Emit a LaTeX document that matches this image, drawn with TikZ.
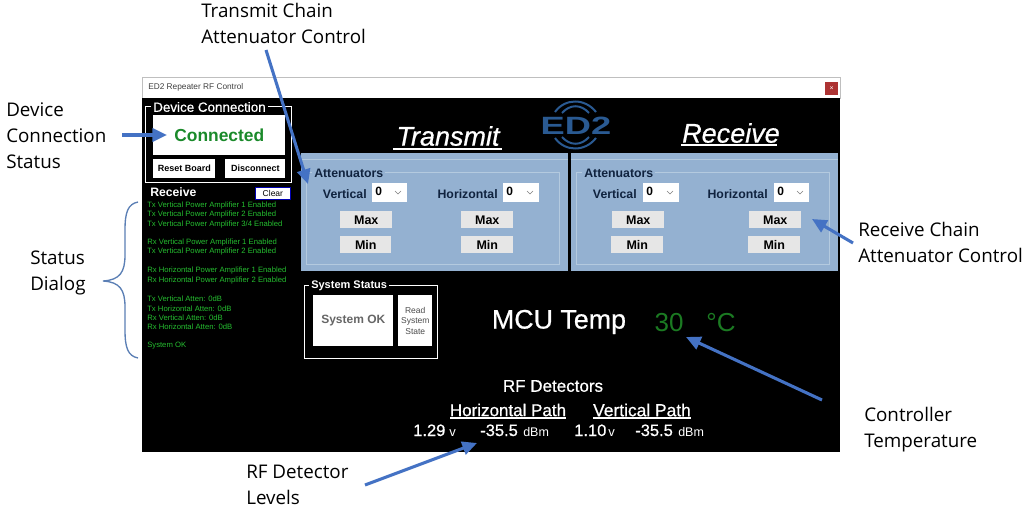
\documentclass[tikz,border=0pt]{standalone}
\usepackage{fontspec}
\setmainfont{Liberation Sans}
\newfontfamily\notef{Open Sans}
\newfontfamily\semif[FakeBold=0.6]{Liberation Sans}
\usetikzlibrary{arrows.meta}
\definecolor{arrowblue}{HTML}{4472C4}
\definecolor{bracecol}{HTML}{5B7FB5}
\definecolor{panelblue}{HTML}{94B1D1}
\definecolor{frameblue}{HTML}{B4CADF}
\definecolor{btngray}{HTML}{E6E6E6}
\definecolor{okgreen}{HTML}{1A8A2A}
\definecolor{dimgreen}{HTML}{1B7A22}
\definecolor{statgreen}{HTML}{25BE30}
\definecolor{navy}{HTML}{10233F}
\definecolor{logoblue}{HTML}{2A5A92}
\newcommand{\pxf}[1]{\fontsize{\dimexpr#1pt*3/4\relax}{\dimexpr#1pt*9/10\relax}\selectfont}
\tikzset{
  x=0.75pt,y=-0.75pt,
  note/.style={inner sep=0pt,align=left,anchor=west,text=black,font=\notef\fontsize{14.1pt}{19.5pt}\selectfont},
  callout/.style={draw=arrowblue,line width=2.3pt,-{Triangle[length=11pt,width=10pt]}},
  btn/.style={fill=btngray,draw=none,inner sep=0pt,text=black,font=\bfseries\pxf{12.5}},
  wbtn/.style={fill=white,draw=none,inner sep=0pt,text=black,font=\bfseries\pxf{9}},
  combo/.style={fill=white,draw=none,inner sep=0pt},
  gui/.style={inner sep=0pt,text=white},
  navytext/.style={inner sep=0pt,text=navy,font=\bfseries\pxf{12.3}},
  statline/.style={inner sep=0pt,anchor=west,text=statgreen,font=\pxf{7.7}},
  framebox/.style={draw=white,line width=0.8pt},
  pframe/.style={draw=frameblue,line width=0.8pt},
  logoarc/.style={draw=logoblue,line width=1.5pt},
}
\newcommand{\boxat}[6]{\node[#1,minimum width=#4*0.75pt-#2*0.75pt,minimum height=#5*0.75pt-#3*0.75pt,anchor=north west] (#6) at (#2,#3) {};}
\newcommand{\btnat}[7]{\node[#1,minimum width=#4*0.75pt-#2*0.75pt,minimum height=#5*0.75pt-#3*0.75pt,anchor=north west] (#6) at (#2,#3) {#7};}
\newcommand{\combobox}[3]{%
  \boxat{combo}{#1}{183}{#2}{202}{#3}
  \node[inner sep=0pt,anchor=west,text=black,font=\bfseries\pxf{12}] (#3v) at (#1+3,191) {0};
  \coordinate (#3a) at (#2-12,191); \coordinate (#3b) at (#2-9,194); \coordinate (#3c) at (#2-6,191);
  \draw[gray,line width=0.5pt] (#3a) -- (#3b) -- (#3c);
}
\begin{document}
\begin{tikzpicture}
\useasboundingbox (0,0) rectangle (1032,510);
\fill[white] (0,0) rectangle (1032,510);
% window
\boxat{fill=white,draw=black!25,line width=0.6pt}{142}{77}{840}{98}{titlebar}
\node[inner sep=0pt,anchor=west,text=black!75,font=\pxf{8.3}] (title) at (148,87) {ED2 Repeater RF Control};
\btnat{fill=red!60!black!80!white,inner sep=0pt,text=white,font=\pxf{7}}{825}{82}{838}{95}{closebtn}{×}
\boxat{fill=black}{142}{98}{840}{452}{client}
% device connection
\boxat{framebox}{145}{106}{291}{182}{devframe}
\node[gui,fill=black,font=\semif\pxf{13.4},inner xsep=1.5pt,anchor=west] (devlabel) at (151,107) {Device Connection};
\btnat{fill=white,inner sep=0pt,text=okgreen,font=\bfseries\pxf{17.4}}{153}{115}{285}{155}{connected}{Connected}
\btnat{wbtn}{153}{159}{215}{178}{reset}{Reset Board}
\btnat{wbtn}{225}{159}{285}{178}{disc}{Disconnect}
\node[gui,anchor=west,font=\bfseries\pxf{12.2}] (recv) at (150,192) {Receive};
\btnat{fill=white,draw=blue!70!black,line width=0.6pt,inner sep=0pt,text=black,font=\pxf{8.5}}{255}{187}{290}{199}{clear}{Clear}
% status lines
\node[statline] (s1) at (147,206) {Tx Vertical Power Amplifier 1 Enabled};
\node[statline] (s2) at (147,215) {Tx Vertical Power Amplifier 2 Enabled};
\node[statline] (s3) at (147,225) {Tx Vertical Power Amplifier 3/4 Enabled};
\node[statline] (s4) at (147,243) {Rx Vertical Power Amplifier 1 Enabled};
\node[statline] (s5) at (147,252) {Tx Vertical Power Amplifier 2 Enabled};
\node[statline] (s6) at (147,271) {Rx Horizontal Power Amplifier 1 Enabled};
\node[statline] (s7) at (147,281) {Rx Horizontal Power Amplifier 2 Enabled};
\node[statline] (s8) at (147,299) {Tx Vertical Atten: 0dB};
\node[statline] (s9) at (147,309) {Tx Horizontal Atten: 0dB};
\node[statline] (s10) at (147,318) {Rx Vertical Atten: 0dB};
\node[statline] (s11) at (147,327) {Rx Horizontal Atten: 0dB};
\node[statline] (s12) at (147,346) {System OK};
% headings
\node[gui,font=\semif\itshape\pxf{27}] (txh) at (448,136) {Transmit};
\draw[white,line width=1.3pt] (393,149) -- (502,149);
\node[gui,font=\semif\itshape\pxf{27}] (rxh) at (731,133) {Receive};
\draw[white,line width=1.3pt] (681,145) -- (777,145);
% logo
\node[inner sep=0pt,text=logoblue,font=\bfseries\pxf{25}] (logo) at (576,126) {\scalebox{1.45}[1]{ED2}};
\draw[logoarc] (555,112) .. controls (565,98) and (585,98) .. (596,112);
\draw[logoarc] (562,113) .. controls (570,104) and (581,104) .. (589,113);
\draw[logoarc] (555,138) .. controls (565,152) and (585,152) .. (596,138);
\draw[logoarc] (562,137) .. controls (570,146) and (581,146) .. (589,137);
% TX panel
\boxat{fill=panelblue}{301}{153}{568}{271}{txpanel}
\draw[frameblue,line width=0.5pt] (301,159) -- (568,159);
\boxat{pframe}{306}{172}{559}{264}{txframe}
\node[navytext,fill=panelblue,inner xsep=1.5pt,anchor=west] (txatt) at (312,173) {Attenuators};
\node[navytext,anchor=east] (txv) at (367,194) {Vertical};
\combobox{372}{407}{txvc}
\node[navytext,anchor=east] (txhz) at (498,194) {Horizontal};
\combobox{503}{539}{txhc}
\btnat{btn}{340}{211}{392}{228}{m1}{Max}
\btnat{btn}{340}{236}{391}{253}{m2}{Min}
\btnat{btn}{461}{211}{513}{228}{m3}{Max}
\btnat{btn}{461}{236}{513}{253}{m4}{Min}
% RX panel
\boxat{fill=panelblue}{571}{153}{838}{271}{rxpanel}
\draw[frameblue,line width=0.5pt] (571,159) -- (838,159);
\boxat{pframe}{576}{172}{829}{264}{rxframe}
\node[navytext,fill=panelblue,inner xsep=1.5pt,anchor=west] (rxatt) at (582,173) {Attenuators};
\node[navytext,anchor=east] (rxv) at (637,194) {Vertical};
\combobox{643}{679}{rxvc}
\node[navytext,anchor=east] (rxhz) at (768,194) {Horizontal};
\combobox{774}{809}{rxhc}
\btnat{btn}{612}{211}{664}{228}{m5}{Max}
\btnat{btn}{611}{236}{663}{253}{m6}{Min}
\btnat{btn}{749}{211}{801}{228}{m7}{Max}
\btnat{btn}{748}{236}{800}{253}{m8}{Min}
% system status
\boxat{framebox}{304}{285}{437}{358}{sysframe}
\node[gui,fill=black,font=\bfseries\pxf{11},inner xsep=1.5pt,anchor=west] (syslabel) at (309,286) {System Status};
\btnat{fill=white,inner sep=0pt,text=black!60,font=\bfseries\pxf{12}}{313}{295}{393}{346}{sysok}{System OK}
\node[fill=white,inner sep=0pt,text=black!70,font=\pxf{8.5},align=center,minimum width=25.5pt,minimum height=38.25pt,anchor=north west] (readst) at (398,295) {Read\\System\\State};
% temp
\node[gui,font=\semif\pxf{26.8}] (mcu) at (559,322) {MCU Temp};
\node[inner sep=0pt,text=dimgreen,font=\pxf{26}] (tempv) at (669,323) {30};
\node[inner sep=0pt,text=dimgreen,font=\pxf{26}] (tempu) at (721,323) {°C};
% detectors
\node[gui,font=\semif\pxf{17}] (rfd) at (553,386) {RF Detectors};
\node[gui,font=\semif\pxf{17}] (hp) at (508,410) {Horizontal Path};
\draw[white,line width=0.8pt] (450,418) -- (566,418);
\node[gui,font=\semif\pxf{17.4}] (vp) at (642,410) {Vertical Path};
\draw[white,line width=0.8pt] (593,418) -- (691,418);
\node[gui,anchor=base west,font=\semif\pxf{16.5}] (v1) at (413,436) {1.29};
\node[gui,anchor=base west,font=\pxf{13}] (v1u) at (449,436) {v};
\node[gui,anchor=base west,font=\semif\pxf{16.5}] (d1) at (480,436) {-35.5};
\node[gui,anchor=base west,font=\pxf{12.5}] (d1u) at (523,436) {dBm};
\node[gui,anchor=base west,font=\semif\pxf{16.5}] (v2) at (574,436) {1.10};
\node[gui,anchor=base west,font=\pxf{13}] (v2u) at (608,436) {v};
\node[gui,anchor=base west,font=\semif\pxf{16.5}] (d2) at (635,436) {-35.5};
\node[gui,anchor=base west,font=\pxf{12.5}] (d2u) at (678,436) {dBm};
% annotations
\node[note] (n1) at (201,23) {Transmit Chain\\Attenuator Control};
\node[note] (n2) at (6,136) {Device\\Connection\\Status};
\node[note] (n3) at (30,273) {Status\\Dialog};
\node[note] (n4) at (858,242) {Receive Chain\\Attenuator Control};
\node[note] (n5) at (864,430) {Controller\\Temperature};
\node[note] (n6) at (246,485) {RF Detector\\Levels};
% arrows
\coordinate (a1s) at (266,50); \coordinate (a1e) at (308,184);
\draw[callout] (a1s) -- (a1e);
\coordinate (a2s) at (122,135); \coordinate (a2e) at (167,135);
\draw[callout] (a2s) -- (a2e);
\coordinate (a3s) at (853,243); \coordinate (a3e) at (812,219);
\draw[callout] (a3s) -- (a3e);
\coordinate (a4s) at (822,400); \coordinate (a4e) at (686,337);
\draw[callout] (a4s) -- (a4e);
\coordinate (a5s) at (365,485); \coordinate (a5e) at (477,443);
\draw[callout] (a5s) -- (a5e);
% brace
\draw[bracecol,line width=1pt] (138,202) .. controls (128,204) and (125,212) .. (125,230)
  -- (125,255) .. controls (125,272) and (120,280) .. (103,281)
  .. controls (120,282) and (125,290) .. (125,307)
  -- (125,330) .. controls (125,348) and (128,356) .. (138,358);
\end{tikzpicture}
\end{document}
